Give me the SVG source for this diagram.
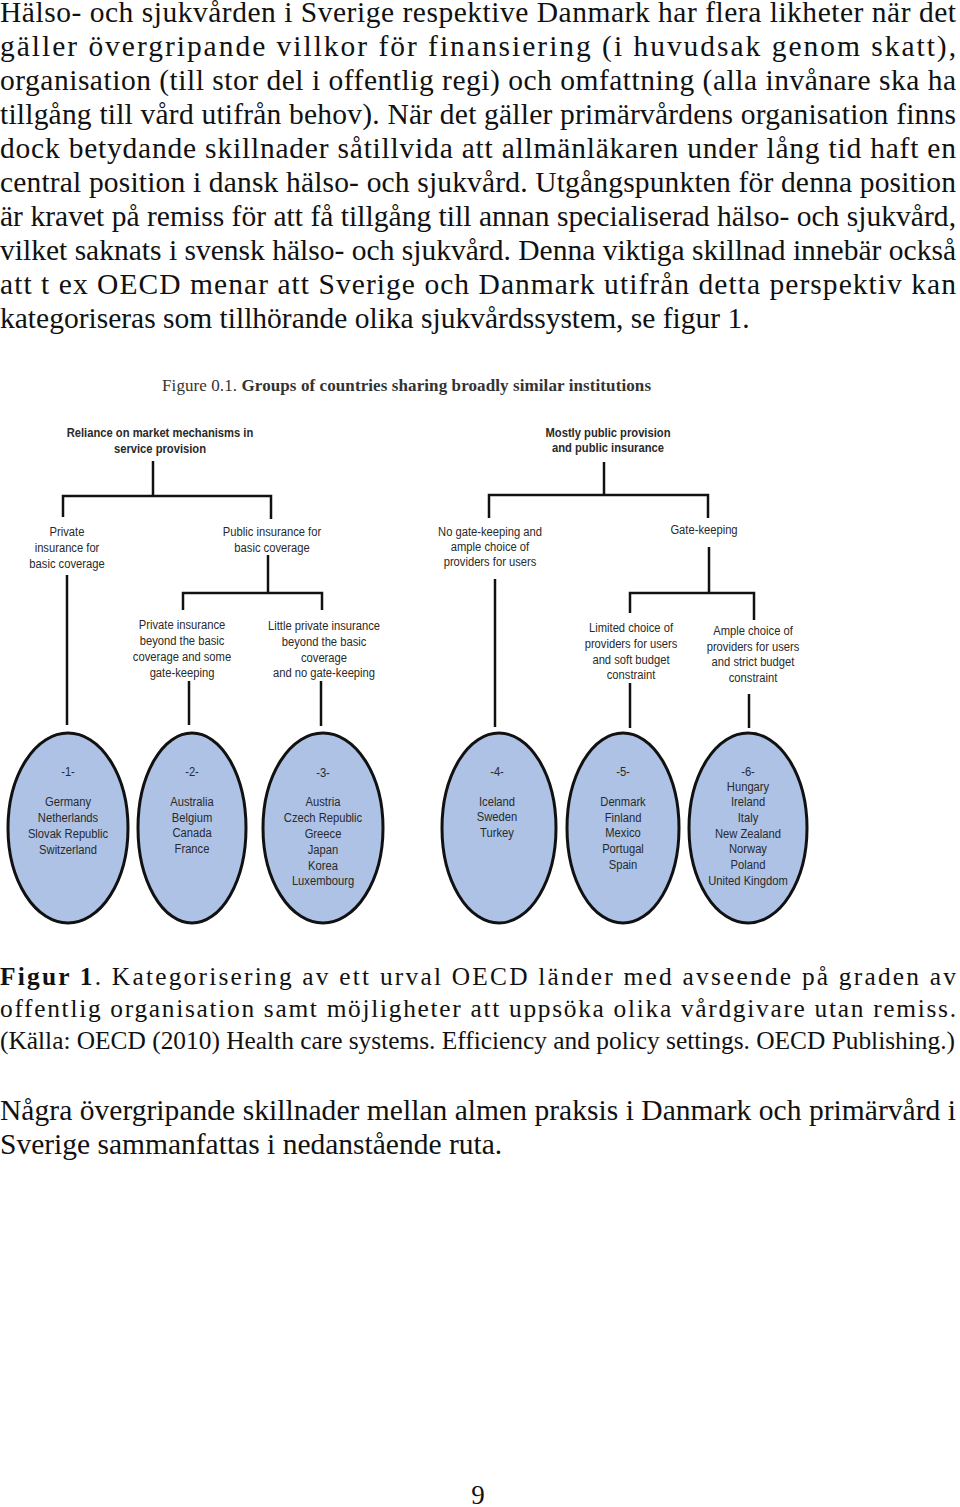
<svg xmlns="http://www.w3.org/2000/svg" width="960" height="1507" viewBox="0 0 960 1507">
<style>
.body{font-family:"Liberation Serif","Times New Roman",serif;font-size:29.5px;fill:#111}
.cap{font-family:"Liberation Serif","Times New Roman",serif;font-size:25.4px;fill:#111}
.ftitle{font-family:"Liberation Serif","Times New Roman",serif;font-size:17px;fill:#333}
.lbl{font-family:"Liberation Sans Narrow","Arial Narrow","Liberation Sans",sans-serif;font-size:13.5px;fill:#2a2a2a;text-anchor:middle}
.b{font-weight:bold}
.conn path{fill:none;stroke:#111;stroke-width:2.5}
.ell{fill:#adc2e5;stroke:#111;stroke-width:3}
</style>
<rect width="960" height="1507" fill="#fff"/>
<g id="body-text" class="body">
<text x="0" y="22" textLength="956" lengthAdjust="spacing">Hälso- och sjukvården i Sverige respektive Danmark har flera likheter när det</text>
<text x="0" y="56" textLength="956" lengthAdjust="spacing">gäller övergripande villkor för finansiering (i huvudsak genom skatt),</text>
<text x="0" y="90" textLength="956" lengthAdjust="spacing">organisation (till stor del i offentlig regi) och omfattning (alla invånare ska ha</text>
<text x="0" y="124" textLength="956" lengthAdjust="spacing">tillgång till vård utifrån behov). När det gäller primärvårdens organisation finns</text>
<text x="0" y="158" textLength="956" lengthAdjust="spacing">dock betydande skillnader såtillvida att allmänläkaren under lång tid haft en</text>
<text x="0" y="192" textLength="956" lengthAdjust="spacing">central position i dansk hälso- och sjukvård. Utgångspunkten för denna position</text>
<text x="0" y="226" textLength="956" lengthAdjust="spacing">är kravet på remiss för att få tillgång till annan specialiserad hälso- och sjukvård,</text>
<text x="0" y="260" textLength="956" lengthAdjust="spacing">vilket saknats i svensk hälso- och sjukvård. Denna viktiga skillnad innebär också</text>
<text x="0" y="294" textLength="956" lengthAdjust="spacing">att t ex OECD menar att Sverige och Danmark utifrån detta perspektiv kan</text>
<text x="0" y="328">kategoriseras som tillhörande olika sjukvårdssystem, se figur 1.</text>
</g>
<g id="figure-title">
<text class="ftitle" x="162" y="391" textLength="489" lengthAdjust="spacing">Figure 0.1. <tspan class="b">Groups of countries sharing broadly similar institutions</tspan></text>
</g>
<g id="connectors" class="conn">
<path d="M153,461 V496"/>
<path d="M63,517 V496 H271 V519"/>
<path d="M268,555 V593"/>
<path d="M183,610 V593 H322 V610"/>
<path d="M67,575 V725"/>
<path d="M189,681 V725"/>
<path d="M321,681 V726"/>
<path d="M604,462 V495"/>
<path d="M489,518 V495 H708 V518"/>
<path d="M709,547 V593"/>
<path d="M630,613 V593 H754 V620"/>
<path d="M495,579 V727"/>
<path d="M630,683 V728"/>
<path d="M749,694 V728"/>
</g>
<g id="n-reliance" class="lbl b" transform="translate(160,0) scale(0.83,1)">
<text x="0" y="437">Reliance on market mechanisms in</text>
<text x="0" y="453">service provision</text>
</g>
<g id="n-mostly-public" class="lbl b" transform="translate(608,0) scale(0.83,1)">
<text x="0" y="437">Mostly public provision</text>
<text x="0" y="452">and public insurance</text>
</g>
<g id="n-private-basic" class="lbl" transform="translate(67,0) scale(0.83,1)">
<text x="0" y="536">Private</text>
<text x="0" y="552">insurance for</text>
<text x="0" y="568">basic coverage</text>
</g>
<g id="n-public-basic" class="lbl" transform="translate(272,0) scale(0.83,1)">
<text x="0" y="536">Public insurance for</text>
<text x="0" y="552">basic coverage</text>
</g>
<g id="n-no-gatekeeping" class="lbl" transform="translate(490,0) scale(0.83,1)">
<text x="0" y="536">No gate-keeping and</text>
<text x="0" y="551">ample choice of</text>
<text x="0" y="566">providers for users</text>
</g>
<g id="n-gatekeeping" class="lbl" transform="translate(704,0) scale(0.83,1)">
<text x="0" y="534">Gate-keeping</text>
</g>
<g id="n-private-beyond" class="lbl" transform="translate(182,0) scale(0.83,1)">
<text x="0" y="629">Private insurance</text>
<text x="0" y="645">beyond the basic</text>
<text x="0" y="661">coverage and some</text>
<text x="0" y="677">gate-keeping</text>
</g>
<g id="n-little-private" class="lbl" transform="translate(324,0) scale(0.83,1)">
<text x="0" y="630">Little private insurance</text>
<text x="0" y="646">beyond the basic</text>
<text x="0" y="662">coverage</text>
<text x="0" y="677">and no gate-keeping</text>
</g>
<g id="n-limited-choice" class="lbl" transform="translate(631,0) scale(0.83,1)">
<text x="0" y="632">Limited choice of</text>
<text x="0" y="648">providers for users</text>
<text x="0" y="664">and soft budget</text>
<text x="0" y="679">constraint</text>
</g>
<g id="n-ample-choice" class="lbl" transform="translate(753,0) scale(0.83,1)">
<text x="0" y="635">Ample choice of</text>
<text x="0" y="651">providers for users</text>
<text x="0" y="666">and strict budget</text>
<text x="0" y="682">constraint</text>
</g>
<g id="g1">
<ellipse class="ell" cx="68" cy="828" rx="60" ry="95"/>
<g class="lbl" transform="translate(68,0) scale(0.83,1)"><text x="0" y="776">-1-</text><text x="0" y="806">Germany</text><text x="0" y="822">Netherlands</text><text x="0" y="838">Slovak Republic</text><text x="0" y="854">Switzerland</text></g>
</g>
<g id="g2">
<ellipse class="ell" cx="192" cy="828" rx="54" ry="95"/>
<g class="lbl" transform="translate(192,0) scale(0.83,1)"><text x="0" y="776">-2-</text><text x="0" y="806">Australia</text><text x="0" y="822">Belgium</text><text x="0" y="837">Canada</text><text x="0" y="853">France</text></g>
</g>
<g id="g3">
<ellipse class="ell" cx="323" cy="828" rx="60" ry="95"/>
<g class="lbl" transform="translate(323,0) scale(0.83,1)"><text x="0" y="777">-3-</text><text x="0" y="806">Austria</text><text x="0" y="822">Czech Republic</text><text x="0" y="838">Greece</text><text x="0" y="854">Japan</text><text x="0" y="870">Korea</text><text x="0" y="885">Luxembourg</text></g>
</g>
<g id="g4">
<ellipse class="ell" cx="499" cy="828" rx="57" ry="95"/>
<g class="lbl" transform="translate(497,0) scale(0.83,1)"><text x="0" y="776">-4-</text><text x="0" y="806">Iceland</text><text x="0" y="821">Sweden</text><text x="0" y="837">Turkey</text></g>
</g>
<g id="g5">
<ellipse class="ell" cx="623" cy="828" rx="56" ry="95"/>
<g class="lbl" transform="translate(623,0) scale(0.83,1)"><text x="0" y="776">-5-</text><text x="0" y="806">Denmark</text><text x="0" y="822">Finland</text><text x="0" y="837">Mexico</text><text x="0" y="853">Portugal</text><text x="0" y="869">Spain</text></g>
</g>
<g id="g6">
<ellipse class="ell" cx="748" cy="828" rx="59" ry="95"/>
<g class="lbl" transform="translate(748,0) scale(0.83,1)"><text x="0" y="776">-6-</text><text x="0" y="791">Hungary</text><text x="0" y="806">Ireland</text><text x="0" y="822">Italy</text><text x="0" y="838">New Zealand</text><text x="0" y="853">Norway</text><text x="0" y="869">Poland</text><text x="0" y="885">United Kingdom</text></g>
</g>
<g id="caption" class="cap">
<text x="0" y="985" textLength="956" lengthAdjust="spacing"><tspan class="b">Figur 1</tspan>. Kategorisering av ett urval OECD länder med avseende på graden av</text>
<text x="0" y="1017" textLength="956" lengthAdjust="spacing">offentlig organisation samt möjligheter att uppsöka olika vårdgivare utan remiss.</text>
<text x="0" y="1049" textLength="955" lengthAdjust="spacing">(Källa: OECD (2010) Health care systems. Efficiency and policy settings. OECD Publishing.)</text>
</g>
<g id="closing-text" class="body">
<text x="0" y="1120" textLength="956" lengthAdjust="spacing">Några övergripande skillnader mellan almen praksis i Danmark och primärvård i</text>
<text x="0" y="1154">Sverige sammanfattas i nedanstående ruta.</text>
</g>
<g id="page-number">
<text class="body" x="478" y="1504" text-anchor="middle" style="font-size:27px">9</text>
</g>
</svg>
